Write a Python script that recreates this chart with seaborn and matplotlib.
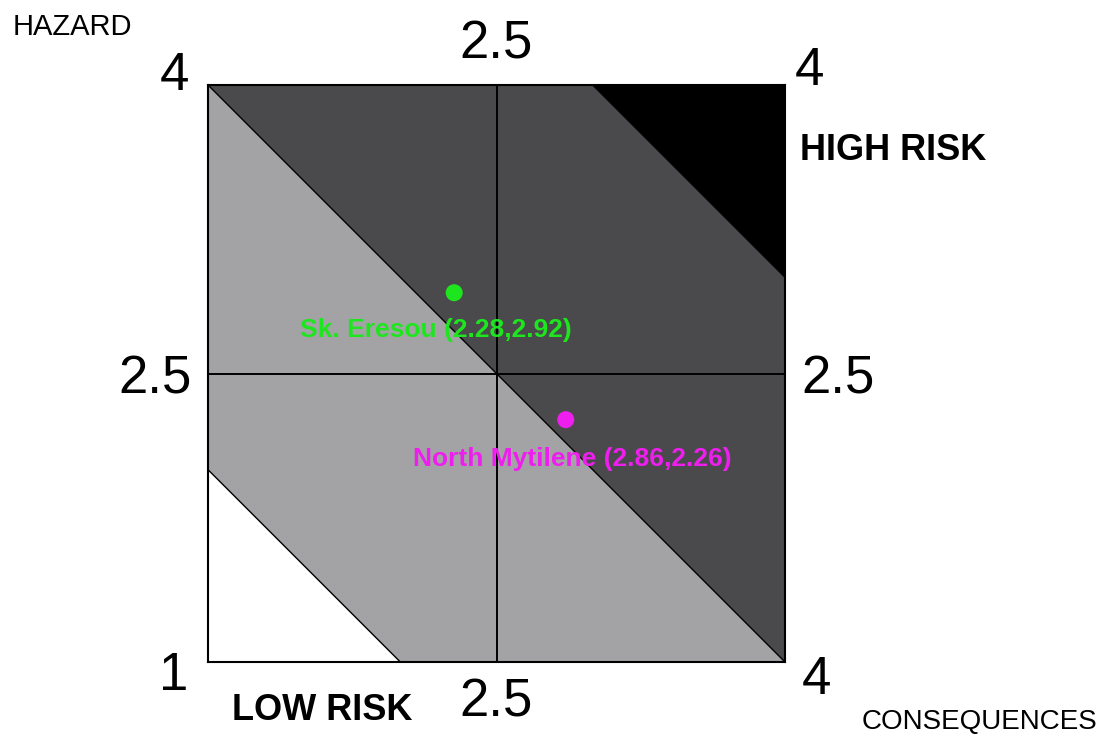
import numpy as np
import pandas as pd
import seaborn as sns
import matplotlib.pyplot as plt

# risk bands: consequences + hazard sum thresholds
band_low = [2, 3, 5, 7]
band_high = [3, 5, 7, 8]
band_colors = ['#ffffff', '#a3a3a5', '#4a4a4c', '#000000']

sites = ['Sk. Eresou', 'North Mytilene']
consequences = [2.28, 2.86]
hazard = [2.92, 2.26]
site_colors = ['#1ee61e', '#ee1eee']
label_offsets = [(-13, -27), (5, -28)]

lim_lo, lim_hi, mid = 1, 4, 2.5

sns.set_style('white')
plt.rcParams['font.family'] = ['Liberation Sans', 'DejaVu Sans']
plt.rcParams['text.color'] = 'black'
plt.rcParams['xtick.color'] = 'black'
plt.rcParams['ytick.color'] = 'black'

fig = plt.figure(figsize=(11.03, 7.40), dpi=100)
ax = fig.add_axes([208 / 1103, 1 - 662 / 740, 577 / 1103, 577 / 740])

x = np.linspace(lim_lo, lim_hi, 301)
for lo, hi, c in zip(band_low, band_high, band_colors):
    y_lo = np.clip(lo - x, lim_lo, lim_hi)
    y_hi = np.clip(hi - x, lim_lo, lim_hi)
    ax.fill_between(x, y_lo, y_hi, color=c, linewidth=0)
    # boundary line
    ax.plot(x, np.where((lo - x >= lim_lo) & (lo - x <= lim_hi), lo - x, np.nan),
            color='black', lw=1.0)

ax.axvline(mid, color='black', lw=1.4)
ax.axhline(mid, color='black', lw=1.4)

df = pd.DataFrame({'site': sites, 'consequences': consequences, 'hazard': hazard})
sns.scatterplot(data=df, x='consequences', y='hazard', hue='site',
                palette=site_colors, s=150, edgecolor='none', legend=False, ax=ax, zorder=5)
for name, cx, hy, col, off in zip(sites, consequences, hazard, site_colors, label_offsets):
    ax.annotate(f'{name} ({cx:.2f},{hy:.2f})', (cx, hy), xytext=off,
                textcoords='offset points', ha='center', va='center',
                color=col, fontsize=19, fontweight='bold', zorder=6)

ax.set_xlim(lim_lo, lim_hi)
ax.set_ylim(lim_lo, lim_hi)
ax.set_xlabel('')
ax.set_ylabel('')
for sp in ax.spines.values():
    sp.set_color('black')
    sp.set_linewidth(1.5)

ax.set_xticks([mid])
ax.set_yticks([mid])
ax.set_xticklabels(['2.5'])
ax.set_yticklabels(['2.5'])
ax.tick_params(axis='x', which='both', length=0, labelsize=38, pad=11,
               top=True, labeltop=True, bottom=True, labelbottom=True, labelcolor='black')
ax.tick_params(axis='y', which='both', length=0, labelsize=38, pad=12,
               left=True, labelleft=True, right=True, labelright=True, labelcolor='black')

# corner values
ax.text(-0.059, 1.016, '4', transform=ax.transAxes, ha='center', va='center', fontsize=38, color='black')
ax.text(1.043, 1.024, '4', transform=ax.transAxes, ha='center', va='center', fontsize=38, color='black')
ax.text(-0.059, -0.024, '1', transform=ax.transAxes, ha='center', va='center', fontsize=38, color='black')
ax.text(1.055, -0.031, '4', transform=ax.transAxes, ha='center', va='center', fontsize=38, color='black')

fig.text(13 / 1103, 1 - 27 / 740, 'HAZARD', ha='left', va='center', fontsize=21, color='black')
fig.text(862 / 1103, 1 - 722 / 740, 'CONSEQUENCES', ha='left', va='center', fontsize=20, color='black')
fig.text(800 / 1103, 1 - 151 / 740, 'HIGH RISK', ha='left', va='center', fontsize=26,
         fontweight='bold', color='black')
fig.text(232 / 1103, 1 - 710 / 740, 'LOW RISK', ha='left', va='center', fontsize=26,
         fontweight='bold', color='black')

fig.savefig('out.png', dpi=100)
